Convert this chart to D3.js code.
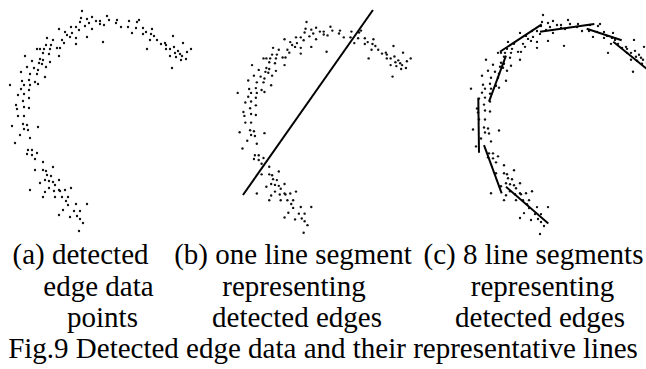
<!DOCTYPE html>
<html>
<head>
<meta charset="utf-8" />
<style>
  body { margin: 0; background: #fff; }
  svg { display: block; }
  text { font-family: "Liberation Serif", "Times New Roman", serif; fill: #000; }
</style>
<script src="https://cdn.jsdelivr.net/npm/d3@7/dist/d3.min.js"></script>
</head>
<body>
<svg id="fig" width="646" height="369"></svg>
<script>
// detected edge points (image coordinates of the edge detector)
var edgePoints = [
  [82,11],[81,18],[87,19],[92,17],[80,22],[89,23],[96,21],[100,21],[107,16],[109,20],
  [117,20],[116,23],[104,25],[100,24],[85,26],[92,29],[76,27],[71,27],[79,30],[59,29],
  [65,32],[72,33],[67,35],[70,37],[76,38],[62,40],[64,43],[87,37],[103,42],[76,44],
  [47,38],[53,40],[60,48],[57,48],[51,45],[46,45],[37,49],[40,49],[44,49],[50,49],
  [43,53],[49,54],[59,56],[25,56],[32,61],[40,59],[43,60],[39,63],[42,64],[50,62],
  [27,67],[34,68],[46,67],[38,70],[21,72],[30,74],[37,74],[45,77],[22,81],[29,80],
  [35,82],[38,84],[10,85],[24,85],[30,85],[21,89],[29,90],[18,95],[24,94],[29,98],
  [23,101],[16,105],[17,109],[24,107],[29,108],[18,116],[24,116],[12,126],[23,124],[27,125],
  [24,129],[28,130],[38,127],[20,135],[30,138],[15,143],[28,150],[32,150],[27,154],[32,155],
  [37,153],[35,159],[43,162],[35,170],[43,170],[46,171],[53,167],[47,175],[51,176],[40,183],
  [45,180],[49,181],[53,182],[59,180],[55,185],[49,188],[45,192],[54,191],[59,190],[60,191],
  [65,190],[71,188],[30,190],[43,197],[55,197],[62,197],[68,197],[66,201],[68,205],[76,204],
  [87,204],[63,210],[74,211],[80,211],[59,215],[70,217],[77,216],[80,219],[83,223],[79,231],
  [121,27],[128,27],[129,21],[137,22],[139,20],[136,28],[132,33],[143,28],[146,32],[143,34],
  [152,29],[151,34],[154,36],[157,40],[150,40],[147,49],[161,44],[165,43],[166,45],[173,36],
  [183,43],[174,47],[166,49],[170,49],[178,51],[175,53],[170,56],[176,57],[180,54],[182,56],
  [187,52],[191,49],[181,60],[186,59],[172,68]
];

// (b) one fitted line, endpoints in the same coordinates
var singleLine = [[15.5,191.6],[151.5,-1.5]];

// (c) eight fitted segments
var segments8 = [
  [[39,47.9],[80.7,20.4]],
  [[79,27.8],[133.3,20]],
  [[125.7,24.8],[160.7,36.4]],
  [[152.3,37.8],[190,68.5]],
  [[45,51.9],[28,98.1]],
  [[17.3,94.1],[18,149.4]],
  [[23,141.7],[40.7,190.2]],
  [[45,183.6],[87.3,220.4]]
];

var captionLines = [
  ["(a) detected", "(b) one line segment", "(c) 8 line segments"],
  ["edge data", "representing", "representing"],
  ["points", "detected edges", "detected edges"]
];
var figTitle = "Fig.9 Detected edge data and their representative lines";

var svg = d3.select("#fig");

var panels = [
  { xr: [10, 191],      yr: [11, 231],   lines: [] },
  { xr: [237.7, 410.7], yr: [22, 232.8], lines: [singleLine] },
  { xr: [471, 652],     yr: [15, 234],   lines: segments8 }
];

panels.forEach(function (p) {
  var x = d3.scaleLinear().domain([10, 191]).range(p.xr);
  var y = d3.scaleLinear().domain([11, 231]).range(p.yr);
  var g = svg.append("g");

  g.selectAll("circle")
    .data(edgePoints)
    .enter()
    .append("circle")
    .attr("cx", function (d) { return x(d[0]) })
    .attr("cy", function (d) { return y(d[1]) })
    .attr("r", 1.2)
    .style("fill", "#111");

  g.selectAll("line")
    .data(p.lines)
    .enter()
    .append("line")
    .attr("x1", function (d) { return x(d[0][0]) })
    .attr("y1", function (d) { return y(d[0][1]) })
    .attr("x2", function (d) { return x(d[1][0]) })
    .attr("y2", function (d) { return y(d[1][1]) })
    .style("stroke", "#000")
    .style("stroke-width", 2);
});

// caption text, centred under each panel
var colCenters = [[80.5, 293, 533.5], [98.5, 294, 542.5], [102.5, 297, 540]];
var rowY = [264, 296, 327];
captionLines.forEach(function (row, i) {
  row.forEach(function (t, j) {
    svg.append("text")
      .attr("x", colCenters[i][j])
      .attr("y", rowY[i])
      .attr("text-anchor", "middle")
      .style("font-size", "29px")
      .text(t);
  });
});

svg.append("text")
  .attr("x", 323)
  .attr("y", 358)
  .attr("text-anchor", "middle")
  .style("font-size", "29px")
  .text(figTitle);
</script>
</body>
</html>
